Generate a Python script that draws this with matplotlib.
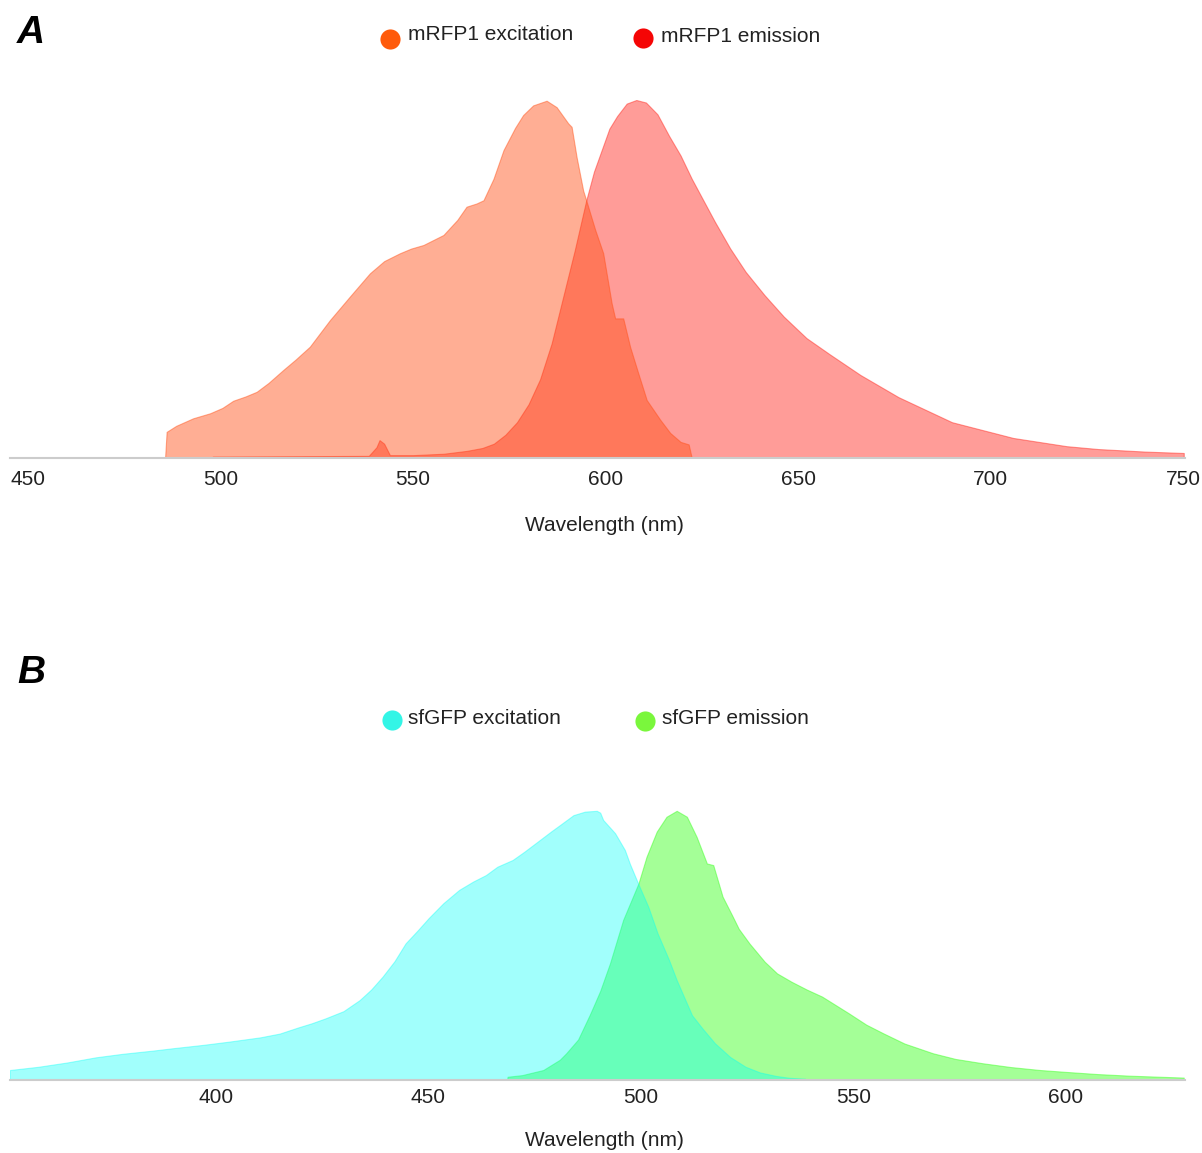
import matplotlib.pyplot as plt
from matplotlib.lines import Line2D

plt.rcParams['font.family'] = ['Liberation Sans', 'DejaVu Sans']

# ---- data (normalised spectra) ----
rfp_ex_nm = [485.6, 486.0, 488.5, 492.9, 497.3, 500.5, 503.3, 506.5, 509.4, 512.5,
             516.3, 519.5, 523.2, 528.4, 533.6, 538.8, 542.5, 546.6, 549.5, 552.7,
             557.9, 561.5, 563.9, 566.5, 568.3, 570.9, 573.5, 576.5, 578.6, 581.2,
             584.7, 587.3, 590.3, 591.2, 592.5, 594.2, 595.1, 597.3, 599.4, 601.6,
             602.5, 604.6, 606.4, 608.5, 610.7, 614.2, 616.8, 619.5, 621.6, 622.4]
rfp_ex_val = [0.0, 0.073, 0.09, 0.111, 0.125, 0.14, 0.16, 0.172, 0.185, 0.21,
              0.246, 0.275, 0.311, 0.385, 0.451, 0.516, 0.55, 0.572, 0.585, 0.595,
              0.623, 0.665, 0.702, 0.711, 0.72, 0.78, 0.86, 0.922, 0.958, 0.985,
              0.998, 0.98, 0.935, 0.925, 0.84, 0.747, 0.716, 0.638, 0.572, 0.432,
              0.39, 0.39, 0.31, 0.237, 0.162, 0.107, 0.07, 0.045, 0.038, 0.0]

rfp_em_nm = [497.7, 498.0, 520.0, 538.5, 540.5, 541.3, 542.5, 544.0, 550.0, 558.0,
             564.0, 568.0, 571.0, 574.0, 577.0, 580.0, 583.0, 586.0, 589.0, 592.0,
             595.0, 597.0, 599.0, 601.0, 603.0, 605.5, 608.0, 610.5, 613.5, 616.5,
             619.5, 622.4, 625.4, 628.4, 632.4, 636.4, 641.3, 646.3, 652.2, 658.2,
             666.2, 676.1, 690.0, 705.9, 719.8, 728.0, 740.0, 750.2]
rfp_em_val = [0.0, 0.004, 0.005, 0.006, 0.03, 0.05, 0.04, 0.008, 0.008, 0.012,
              0.02, 0.028, 0.04, 0.065, 0.1, 0.15, 0.22, 0.32, 0.45, 0.58,
              0.72, 0.80, 0.86, 0.92, 0.955, 0.99, 1.0, 0.993, 0.96, 0.9,
              0.845, 0.78, 0.72, 0.66, 0.585, 0.52, 0.455, 0.395, 0.335, 0.29,
              0.232, 0.17, 0.1, 0.056, 0.033, 0.025, 0.018, 0.014]

gfp_ex_nm = [351.5, 358.2, 365.0, 371.7, 378.0, 385.2, 390.0, 396.9, 403.0, 410.4,
             415.0, 419.4, 422.5, 425.7, 430.0, 433.8, 436.5, 439.2, 442.0, 444.6,
             447.5, 450.0, 453.5, 457.2, 460.5, 463.5, 466.2, 469.8, 472.5, 475.2,
             478.8, 480.9, 484.1, 486.8, 489.6, 490.4, 491.1, 493.9, 496.2, 497.4,
             499.4, 501.7, 503.9, 506.6, 508.4, 512.0, 514.5, 517.4, 521.0, 524.6,
             528.0, 531.8, 535.0, 538.6, 538.7]
gfp_ex_val = [0.037, 0.049, 0.065, 0.084, 0.097, 0.109, 0.118, 0.13, 0.142, 0.158,
              0.172, 0.195, 0.21, 0.228, 0.255, 0.296, 0.335, 0.383, 0.44, 0.506,
              0.555, 0.599, 0.655, 0.704, 0.735, 0.759, 0.79, 0.815, 0.845, 0.877,
              0.92, 0.944, 0.981, 0.994, 0.997, 0.99, 0.963, 0.914, 0.852, 0.80,
              0.725, 0.642, 0.543, 0.444, 0.37, 0.24, 0.19, 0.136, 0.085, 0.049,
              0.028, 0.015, 0.008, 0.005, 0.0]

gfp_em_nm = [468.5, 468.6, 472.0, 477.0, 480.9, 482.4, 485.2, 487.9, 488.8, 490.4,
             492.7, 495.8, 499.4, 501.3, 503.7, 506.0, 508.4, 510.8, 513.1, 515.5,
             517.0, 519.2, 521.4, 523.0, 525.5, 529.1, 532.0, 535.4, 539.0, 542.6,
             548.9, 553.0, 557.0, 562.0, 568.7, 574.0, 580.4, 587.0, 593.9, 600.0,
             607.4, 615.0, 627.7]
gfp_em_val = [0.0, 0.012, 0.018, 0.037, 0.075, 0.099, 0.15, 0.24, 0.272, 0.33,
              0.432, 0.593, 0.728, 0.827, 0.92, 0.975, 0.997, 0.975, 0.90, 0.802,
              0.796, 0.679, 0.611, 0.56, 0.506, 0.438, 0.395, 0.364, 0.335, 0.309,
              0.247, 0.205, 0.173, 0.135, 0.099, 0.078, 0.062, 0.048, 0.037, 0.03,
              0.022, 0.016, 0.009]

rfp_ticks = [450, 500, 550, 600, 650, 700, 750]
gfp_ticks = [400, 450, 500, 550, 600]

W, H = 1202, 1153
fig = plt.figure(figsize=(W / 100, H / 100), dpi=100)


def panel(top, base, xlim, ticks, pad):
    ax = fig.add_axes([10 / W, 1 - base / H, 1175 / W, (base - top) / H])
    ax.set_xlim(*xlim)
    ax.set_ylim(0, 1.0)
    for s in ['top', 'right', 'left']:
        ax.spines[s].set_visible(False)
    ax.spines['bottom'].set_color('#cccccc')
    ax.spines['bottom'].set_linewidth(1.5)
    ax.set_yticks([])
    ax.set_xticks(ticks)
    ax.tick_params(axis='x', length=0, pad=pad, labelsize=15, labelcolor='#222222')
    ax.patch.set_alpha(0)
    return ax


# panel A
axA = panel(100, 458, (445.32, 750.52), rfp_ticks, 8.5)
axA.fill_between(rfp_em_nm, rfp_em_val, color='#ff1a10', alpha=0.43, lw=0.8)
axA.fill_between(rfp_ex_nm, rfp_ex_val, color='#ff4d12', alpha=0.45, lw=0.8)

# panel B
axB = panel(810, 1080, (351.53, 628.0), gfp_ticks, 6)
axB.fill_between(gfp_em_nm, gfp_em_val, color='#35ff1a', alpha=0.45, lw=0.8)
axB.fill_between(gfp_ex_nm, gfp_ex_val, color='#00fff8', alpha=0.37, lw=0.8)

for y in [525, 1141]:
    fig.text(604 / W, 1 - y / H, 'Wavelength (nm)', ha='center', va='center',
             fontsize=15, color='#222222')

fig.text(17 / W, 1 - 33 / H, 'A', fontsize=28, fontweight='bold', style='italic',
         va='center', ha='left')
fig.text(17 / W, 1 - 673 / H, 'B', fontsize=28, fontweight='bold', style='italic',
         va='center', ha='left')

# legends
legend_items = [
    (390, 39, 408, 35, '#ff5a0a', 'mRFP1 excitation'),
    (643, 38, 661, 36, '#f50505', 'mRFP1 emission'),
    (392, 720, 408, 718, '#33f5e6', 'sfGFP excitation'),
    (645, 721, 662, 719, '#7af73c', 'sfGFP emission'),
]
for mx, my, tx, ty, c, label in legend_items:
    fig.add_artist(Line2D([mx / W], [1 - my / H], marker='o', markersize=14.5,
                          color=c, markeredgewidth=0, transform=fig.transFigure))
    fig.text(tx / W, 1 - ty / H, label, fontsize=15, va='center', ha='left',
             color='#222222')

plt.savefig('out.png', dpi=100)
